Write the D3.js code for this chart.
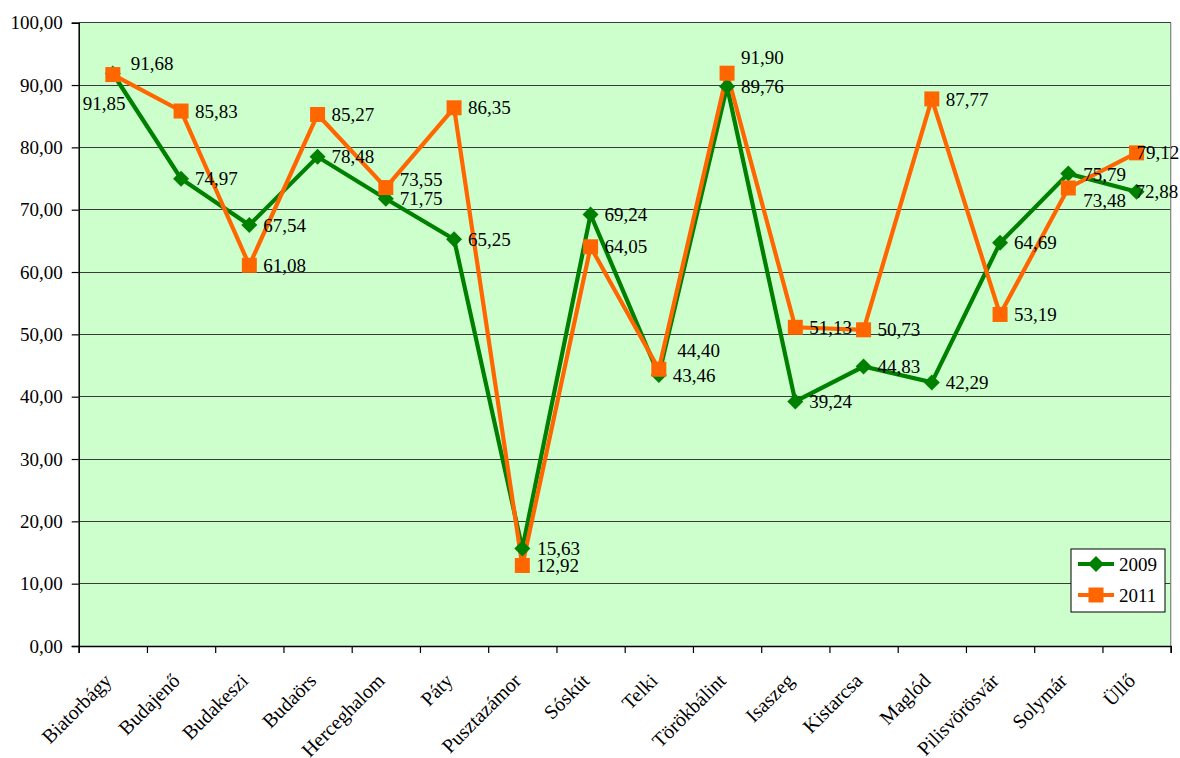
<!DOCTYPE html>
<html>
<head>
<meta charset="utf-8">
<script src="https://cdn.jsdelivr.net/npm/d3@7"></script>
<style>
  html, body { margin: 0; padding: 0; background: #ffffff; }
  svg { display: block; }
  text { font-family: "Liberation Serif", "Times New Roman", serif; fill: #000; }
</style>
</head>
<body>
<svg id="chart" width="1180" height="758"></svg>
<script>
const categories = ["Biatorbágy", "Budajenő", "Budakeszi", "Budaörs", "Herceghalom", "Páty", "Pusztazámor", "Sóskút", "Telki", "Törökbálint", "Isaszeg", "Kistarcsa", "Maglód", "Pilisvörösvár", "Solymár", "Üllő"];
const series2009 = [91.85, 74.97, 67.54, 78.48, 71.75, 65.25, 15.63, 69.24, 43.46, 89.76, 39.24, 44.83, 42.29, 64.69, 75.79, 72.88];
const series2011 = [91.68, 85.83, 61.08, 85.27, 73.55, 86.35, 12.92, 64.05, 44.40, 91.90, 51.13, 50.73, 87.77, 53.19, 73.48, 79.12];
const yTickValues = [0, 10, 20, 30, 40, 50, 60, 70, 80, 90, 100];
const seriesNames = ["2009", "2011"];

// label placement tweaks (style only): [dx, dy] per point
const labelOffsets2009 = [[-30, 30], [14, 0], [14, 0], [14, 0], [14, 0], [14, 0], [15, 0], [14, 0], [14, 0], [14, 0], [14, 0], [14, 0], [14, 0], [14, 0], [15, 1], [-1, 0]];
const labelOffsets2011 = [[18, -11.5], [14, 0], [14, 0], [14, 0], [14, -8], [14, 0], [14, 0], [14, 0], [18.5, -19], [14, -16], [14, 0], [14, 0], [14, 0], [14, 0], [15, 12], [0, 0]];

const fmt = v => d3.format(".2f")(v).replace(".", ",");

const svg = d3.select("#chart");
const L = 78.7, R = 1170.7, T = 22.7, B = 646;

const x = d3.scaleBand().domain(categories).range([L, R]);
const xb = d3.scaleLinear().domain([0, categories.length]).range([L, R]);
const y = d3.scaleLinear().domain([0, 100]).range([B, T]);
const cx = (d, i) => x(categories[i]) + x.bandwidth() / 2;

// plot background
svg.append("rect").attr("x", L).attr("y", T).attr("width", R - L).attr("height", B - T)
  .attr("fill", "#CCFFCC");

// gridlines
svg.append("g").selectAll("line").data(yTickValues.filter(v => v > 0)).join("line")
  .attr("x1", L).attr("x2", R).attr("y1", d => y(d)).attr("y2", d => y(d))
  .attr("stroke", "#3a3a3a").attr("stroke-width", 1).attr("shape-rendering", "crispEdges");

// right border
svg.append("line").attr("x1", R).attr("x2", R).attr("y1", T).attr("y2", B)
  .attr("stroke", "#808080").attr("stroke-width", 1.2);

// y axis
const yAxis = svg.append("g").attr("transform", `translate(${L},0)`)
  .call(d3.axisLeft(y).tickValues(yTickValues).tickFormat(fmt).tickSize(7).tickPadding(9));
yAxis.attr("font-family", null);
yAxis.select(".domain").attr("stroke", "#000").attr("stroke-width", 1.5);
yAxis.selectAll(".tick line").attr("stroke", "#000").attr("stroke-width", 1.2);
yAxis.selectAll(".tick text").attr("font-size", 19);

// x axis boundary ticks
const xAxisTicks = svg.append("g").attr("transform", `translate(0,${B})`)
  .call(d3.axisBottom(xb).tickValues(d3.range(categories.length + 1)).tickFormat("").tickSize(7));
xAxisTicks.select(".domain").attr("stroke", "#000").attr("stroke-width", 1.5);
xAxisTicks.selectAll(".tick line").attr("stroke", "#000").attr("stroke-width", 1.2);

// x axis labels
const xAxisLabels = svg.append("g").attr("transform", `translate(0,${B})`)
  .call(d3.axisBottom(x).tickSize(0));
xAxisLabels.attr("font-family", null);
xAxisLabels.select(".domain").remove();
xAxisLabels.selectAll(".tick text")
  .attr("font-size", 20)
  .attr("x", 0).attr("y", 0).attr("dy", 0)
  .attr("text-anchor", "end")
  .attr("transform", "translate(0,36) rotate(-45)");

// lines
const lineGen = d3.line().x((d, i) => cx(d, i)).y(d => y(d));
const colors = ["#008000", "#FF6600"];
[series2009, series2011].forEach((s, k) => {
  svg.append("path").datum(s).attr("d", lineGen)
    .attr("fill", "none").attr("stroke", colors[k]).attr("stroke-width", 4.2)
    .attr("stroke-linejoin", "miter");
});

// markers
svg.append("g").selectAll("path").data(series2009).join("path")
  .attr("d", d3.symbol().type(d3.symbolSquare).size(128))
  .attr("transform", (d, i) => `translate(${cx(d, i)},${y(d)}) rotate(45)`)
  .attr("fill", colors[0]);
svg.append("g").selectAll("rect").data(series2011).join("rect")
  .attr("x", (d, i) => cx(d, i) - 7.5).attr("y", d => y(d) - 7.5)
  .attr("width", 15).attr("height", 15)
  .attr("fill", colors[1]);

// data labels
[[series2009, labelOffsets2009], [series2011, labelOffsets2011]].forEach(([s, off]) => {
  svg.append("g").selectAll("text").data(s).join("text")
    .attr("x", (d, i) => cx(d, i) + off[i][0])
    .attr("y", (d, i) => y(d) + off[i][1])
    .attr("dy", "0.35em")
    .attr("font-size", 19)
    .text(d => fmt(d));
});

// legend
const lg = svg.append("g");
lg.append("rect").attr("x", 1071).attr("y", 549).attr("width", 94).attr("height", 63)
  .attr("fill", "#fff").attr("stroke", "#000").attr("stroke-width", 1);
seriesNames.forEach((name, k) => {
  const ly = 564 + k * 31;
  lg.append("line").attr("x1", 1078).attr("x2", 1114).attr("y1", ly).attr("y2", ly)
    .attr("stroke", colors[k]).attr("stroke-width", 4.2);
  if (k === 0) {
    lg.append("path").attr("d", d3.symbol().type(d3.symbolSquare).size(128))
      .attr("transform", `translate(1096,${ly}) rotate(45)`).attr("fill", colors[0]);
  } else {
    lg.append("rect").attr("x", 1096 - 7.5).attr("y", ly - 7.5).attr("width", 15).attr("height", 15)
      .attr("fill", colors[1]);
  }
  lg.append("text").attr("x", 1119).attr("y", ly).attr("dy", "0.35em")
    .attr("font-size", 19).text(name);
});
</script>
</body>
</html>
